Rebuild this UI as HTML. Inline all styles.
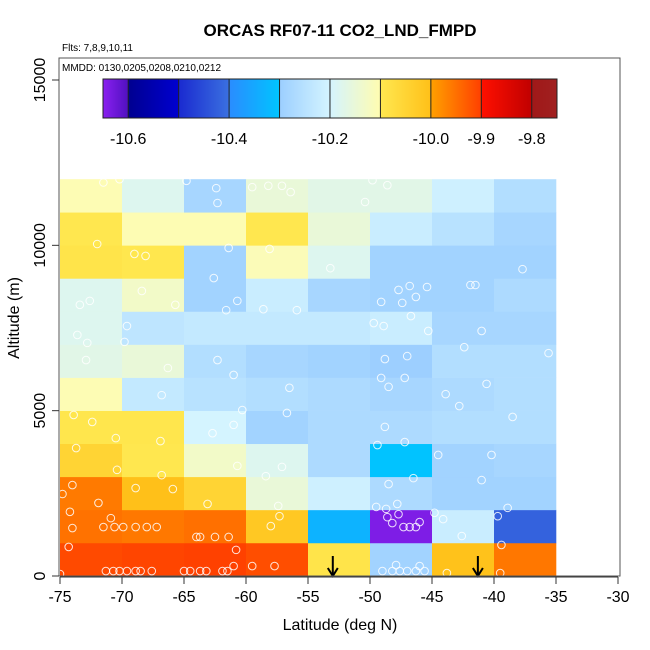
<!DOCTYPE html>
<html><head><meta charset="utf-8">
<style>
body{margin:0;background:#fff;}
svg{display:block;font-family:"Liberation Sans",Arial,sans-serif;}
</style></head>
<body>
<svg id="chart" width="650" height="650" viewBox="0 0 650 650">
<rect x="0" y="0" width="650" height="650" fill="#fff"/>
<text x="340" y="36" text-anchor="middle" font-size="17" font-weight="bold">ORCAS RF07-11 CO2_LND_FMPD</text>
<text x="62" y="51" font-size="10">Flts: 7,8,9,10,11</text>
<g id="cells"></g>
<g id="pts"></g>
<g id="arrows"></g>
<rect x="59" y="58" width="561" height="518" fill="none" stroke="#555" stroke-width="1"/>
<text x="62" y="71" font-size="10">MMDD: 0130,0205,0208,0210,0212</text>
<g id="cbar"></g>
<g id="xaxis"></g>
<g id="yaxis"></g>
<text x="340" y="630" text-anchor="middle" font-size="16">Latitude (deg N)</text>
<text transform="translate(19,318) rotate(-90)" text-anchor="middle" font-size="16">Altitude (m)</text>
</svg>
<script>
const latBins=[-75,-70,-65,-60,-55,-50,-45,-40];
const altBins=[0,1000,2000,3000,4000,5000,6000,7000,8000,9000,10000,11000];
const cellValues=[
[-9.91,-9.905,-9.901,-9.915,-10.09,-10.29,-10.005,-9.957],
[-9.952,-9.958,-9.95,-10.02,-10.33,-10.64,-10.22,-10.42],
[-9.96,-10.001,-10.05,-10.15,-10.21,-10.27,-10.29,-10.29],
[-10.05,-10.098,-10.13,-10.18,-10.27,-10.302,-10.29,-10.28],
[-10.095,-10.095,-10.2,-10.29,-10.27,-10.27,-10.26,-10.26],
[-10.105,-10.23,-10.25,-10.26,-10.27,-10.28,-10.27,-10.26],
[-10.17,-10.15,-10.26,-10.28,-10.29,-10.299,-10.26,-10.26],
[-10.18,-10.24,-10.23,-10.23,-10.23,-10.22,-10.28,-10.28],
[-10.18,-10.13,-10.29,-10.22,-10.28,-10.29,-10.29,-10.27],
[-10.09,-10.097,-10.29,-10.11,-10.18,-10.29,-10.29,-10.29],
[-10.098,-10.104,-10.104,-10.098,-10.15,-10.22,-10.25,-10.28],
[-10.105,-10.18,-10.28,-10.15,-10.17,-10.17,-10.21,-10.26]];
const ptLat=[-71.5,-70.2,-64.8,-62.4,-62.3,-59.5,-58.2,-57.1,-56.4,-50.4,-49.8,-48.6,-72.0,-69.0,-68.1,-62.6,-61.4,-58.1,-53.2,-60.7,-61.6,-49.1,-47.7,-47.4,-46.8,-46.3,-45.4,-41.9,-41.5,-37.7,-73.4,-72.6,-68.4,-65.7,-58.6,-55.9,-49.7,-48.9,-46.7,-45.3,-69.6,-73.6,-72.8,-69.8,-41.0,-35.6,-42.4,-62.3,-48.8,-47.0,-72.9,-66.3,-66.8,-61.0,-56.5,-49.1,-47.2,-48.5,-43.9,-40.6,-73.9,-72.4,-70.5,-66.9,-62.7,-61.0,-60.3,-56.7,-48.8,-47.2,-49.4,-38.5,-42.8,-73.7,-70.4,-66.8,-60.7,-57.1,-58.4,-48.5,-46.5,-44.5,-40.2,-41.0,-74.8,-74.0,-71.9,-68.9,-65.9,-63.1,-57.4,-49.5,-48.7,-47.8,-47.7,-44.8,-38.9,-74.2,-70.9,-74.0,-71.5,-70.6,-69.9,-68.9,-68.0,-67.2,-64.0,-63.7,-62.5,-61.4,-58.0,-57.3,-48.6,-48.2,-47.3,-46.8,-46.3,-46.0,-44.1,-42.6,-39.7,-74.3,-75.0,-71.3,-70.7,-70.2,-69.6,-68.9,-68.5,-67.6,-65.0,-64.5,-63.7,-63.2,-61.9,-61.5,-61.0,-60.8,-59.5,-57.7,-49.0,-48.2,-47.6,-47.0,-46.3,-45.6,-47.9,-46.0,-43.8,-39.5,-39.4];
const ptAlt=[11900,12000,11950,11730,11280,11760,11800,11800,11610,11310,11970,11820,10040,9740,9680,9010,9920,9890,9310,8320,8040,8290,8650,8260,8770,8440,8740,8800,8800,9280,8200,8320,8620,8200,8070,8040,7650,7560,7860,7410,7560,7290,7050,7080,7410,6740,6920,6530,6560,6650,6530,6290,5470,6080,5690,5990,5990,5720,5500,5810,4870,4660,4170,4080,4320,4570,5020,4930,4510,4050,3960,4810,5140,3870,3210,3050,3330,3300,3020,2780,2960,3660,3660,2900,2480,2750,2210,2660,2630,2180,2120,2090,2030,2180,1870,1910,2060,1940,1750,1450,1480,1480,1480,1480,1480,1480,1180,1180,1180,1180,1510,1810,1780,1600,1480,1480,1480,1630,1720,1210,1810,880,60,150,150,150,150,150,150,150,150,150,150,150,150,150,300,790,300,300,150,150,150,150,150,150,330,300,90,90,940];
const arrowLat=[-53,-41.3];
const xTicks=[-75,-70,-65,-60,-55,-50,-45,-40,-35,-30];
const yTicks=[0,5000,10000,15000];
const cbTicks=[-10.6,-10.4,-10.2,-10.0,-9.9,-9.8];
const cbBreaks=[-10.6,-10.5,-10.4,-10.3,-10.2,-10.1,-10.0,-9.9,-9.8];
const stopV=[-10.65,-10.6,-10.6,-10.5,-10.5,-10.4,-10.4,-10.3,-10.3,-10.2,-10.2,-10.1,-10.1,-10.0,-10.0,-9.9,-9.9,-9.8,-9.8,-9.75];
const stopC=["#8a20f0","#5010c0","#000090","#0000d0","#1a2ad0","#3a70e0","#2a8cff","#00c4ff","#9ccfff","#d4f4ff","#d4f4ff","#fffcb0","#ffe850","#ffc018","#ffa000","#ff4000","#ff1000","#c00000","#a01818","#a02020"];

const NS="http://www.w3.org/2000/svg";
const X=v=>60+(v+75)*12.4;
const Y=v=>576-v*0.033067;
const CB=v=>103+(v+10.65)*504.4;
function hex(c){return [1,3,5].map(i=>parseInt(c.substr(i,2),16));}
function color(v){
  if(v<=stopV[0])return stopC[0];
  for(let i=1;i<stopV.length;i++){
    if(v<stopV[i] || (i===stopV.length-1)){
      const d=stopV[i]-stopV[i-1];const t=d>0?Math.min(1,(v-stopV[i-1])/d):0;
      const a=hex(stopC[i-1]),b=hex(stopC[i]);
      return "rgb("+a.map((x,k)=>Math.round(x+(b[k]-x)*t)).join(",")+")";}
  }
  return stopC[stopC.length-1];
}
function el(tag,attrs,parent){const e=document.createElementNS(NS,tag);for(const k in attrs)e.setAttribute(k,attrs[k]);parent.appendChild(e);return e;}

const cells=document.getElementById('cells');
altBins.forEach((a,r)=>latBins.forEach((l,c)=>{
  const x0=X(l),x1=X(l+5),y0=Y(a+1000),y1=Y(a);
  const e=el('rect',{x:x0,y:y0,width:x1-x0+0.3,height:y1-y0+0.3,fill:color(cellValues[r][c])},cells);
  
  
}));
const pts=document.getElementById('pts');
ptLat.forEach((l,i)=>{
  const e=el('circle',{cx:X(l),cy:Y(ptAlt[i]),r:3.8,fill:'none',stroke:'#fff','stroke-opacity':0.85,'stroke-width':1},pts);
  
  
});
const arrows=document.getElementById('arrows');
arrowLat.forEach(l=>{
  const g=el('g',{},arrows);
  
  
  el('line',{x1:X(l),y1:556,x2:X(l),y2:575,stroke:'#000','stroke-width':2},g);
  el('polyline',{points:(X(l)-5)+',568 '+X(l)+',576 '+(X(l)+5)+',568',fill:'none',stroke:'#000','stroke-width':2},g);
});
const cb=document.getElementById('cbar');
el('rect',{x:100,y:75,width:462,height:72,fill:'#fff'},cb);
for(let px=103;px<557;px++){
  el('rect',{x:px,y:79,width:1.2,height:39,fill:color(-10.65+(px+0.5-103)/504.4)},cb);
}
cbBreaks.forEach(v=>el('line',{x1:CB(v),y1:79,x2:CB(v),y2:118,stroke:'#222','stroke-width':1},cb));
el('rect',{x:103,y:79,width:454,height:39,fill:'none',stroke:'#222'},cb);
cbTicks.forEach(v=>{
  const t=el('text',{x:CB(v),y:144,'text-anchor':'middle','font-size':16},cb);
  t.textContent=v.toFixed(1);
  
  
});
const xa=document.getElementById('xaxis');
el('line',{x1:X(-75),y1:577,x2:X(-30),y2:577,stroke:'#333'},xa);
xTicks.forEach(v=>{
  el('line',{x1:X(v),y1:577,x2:X(v),y2:584,stroke:'#333'},xa);
  const t=el('text',{x:X(v),y:602,'text-anchor':'middle','font-size':16},xa);
  t.textContent=v;
  
  
});
const ya=document.getElementById('yaxis');
yTicks.forEach(v=>{
  el('line',{x1:52,y1:Y(v),x2:59,y2:Y(v),stroke:'#333'},ya);
  const t=el('text',{transform:'translate(45,'+Y(v)+') rotate(-90)','text-anchor':'middle','font-size':16},ya);
  t.textContent=v;
  
  
});
</script>
</body></html>
